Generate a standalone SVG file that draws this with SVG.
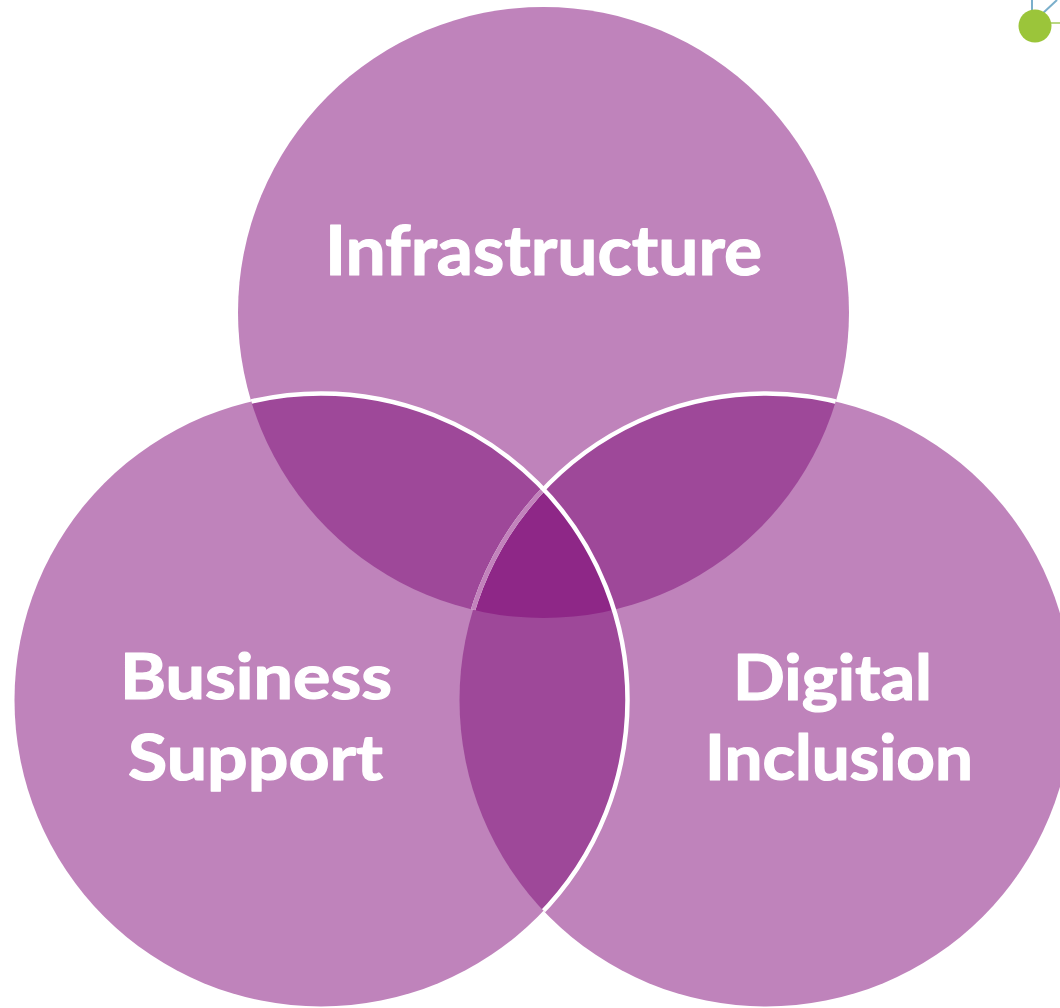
<svg xmlns="http://www.w3.org/2000/svg" width="1060" height="1008" viewBox="0 0 1060 1008">
<style>
.c{fill:#BF83BB}
.d{fill:#9E4899}
.t{fill:#8E2787}
.lbl{font-family:Lato,"Open Sans","Liberation Sans",sans-serif;font-weight:700;fill:#FFFFFF;stroke:#FFFFFF;stroke-width:1.2;stroke-linejoin:round}
.ws{fill:none;stroke:#FFFFFF;stroke-width:4.5}
</style>
<defs>
<clipPath id="clipTop"><circle cx="543.5" cy="312.5" r="305.5"/></clipPath>
<clipPath id="clipLeft"><circle cx="321" cy="700" r="306.5"/></clipPath>
<clipPath id="clipRight"><circle cx="766" cy="700" r="306.5"/></clipPath>
<clipPath id="clipTopRight"><circle cx="543.5" cy="312.5" r="305.5"/><circle cx="766" cy="700" r="306.5"/></clipPath>
</defs>
<rect width="1060" height="1008" fill="#FFFFFF"/>

<g id="node-infrastructure">
<circle class="c" cx="543.5" cy="312.5" r="305.5"/>
</g>
<g id="node-business-support">
<circle class="c" cx="321" cy="700" r="306.5"/>
</g>
<g id="node-digital-inclusion">
<circle class="c" cx="766" cy="700" r="306.5"/>
</g>

<g id="overlaps">
<g clip-path="url(#clipTop)"><circle class="d" cx="321" cy="700" r="306.5"/><circle class="d" cx="766" cy="700" r="306.5"/></g>
<g clip-path="url(#clipLeft)"><circle class="d" cx="766" cy="700" r="306.5"/></g>
<g clip-path="url(#clipTop)"><g clip-path="url(#clipLeft)"><circle class="t" cx="766" cy="700" r="306.5"/></g></g>
</g>

<g id="outlines">
<g clip-path="url(#clipTop)"><circle class="ws" cx="766" cy="700" r="306.5"/></g>
<g clip-path="url(#clipTop)"><g clip-path="url(#clipLeft)"><circle cx="766" cy="700" r="306.5" fill="none" stroke="#C283BC" stroke-width="4.5"/></g></g>
<g clip-path="url(#clipTopRight)"><circle class="ws" cx="321" cy="700" r="306.5"/></g>
</g>

<g id="labels">
<text class="lbl" x="543.5" y="275" font-size="68" text-anchor="middle" textLength="437" lengthAdjust="spacingAndGlyphs">Infrastructure</text>
<text class="lbl" x="256" y="699" font-size="63" text-anchor="middle" textLength="272" lengthAdjust="spacingAndGlyphs">Business</text>
<text class="lbl" x="255.5" y="780" font-size="63" text-anchor="middle" textLength="255" lengthAdjust="spacingAndGlyphs">Support</text>
<text class="lbl" x="832.5" y="700" font-size="63" text-anchor="middle" textLength="199" lengthAdjust="spacingAndGlyphs">Digital</text>
<text class="lbl" x="839" y="780" font-size="63" text-anchor="middle" textLength="268" lengthAdjust="spacingAndGlyphs">Inclusion</text>
</g>

<g id="corner-decoration">
<line x1="1032" y1="12" x2="1032" y2="0" stroke="#7AAFCB" stroke-width="2"/>
<line x1="1042" y1="14" x2="1057" y2="0" stroke="#7AAFCB" stroke-width="2"/>
<line x1="1050" y1="23" x2="1060" y2="23" stroke="#B9D882" stroke-width="2"/>
<circle cx="1035" cy="26" r="16.5" fill="#9BC53A"/>
</g>
</svg>
